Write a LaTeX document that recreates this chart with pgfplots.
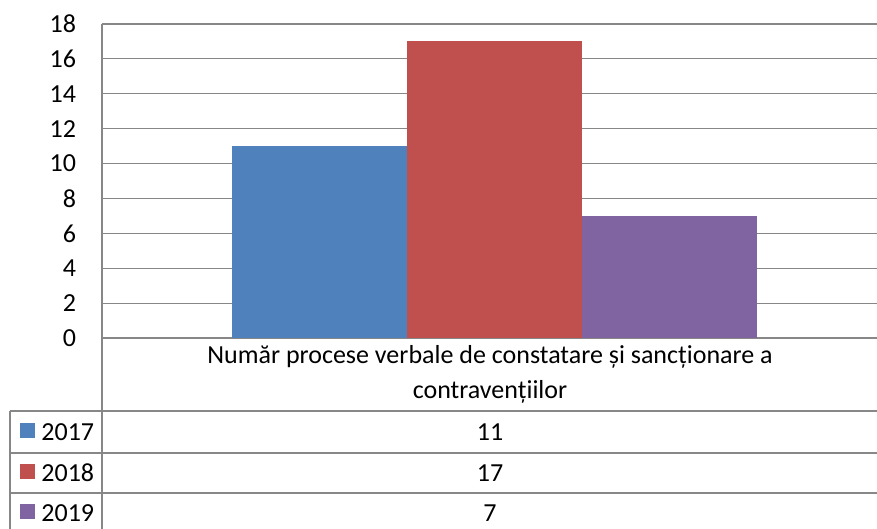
\documentclass[border=0pt]{standalone}
\usepackage{fontspec}
\setmainfont{Carlito}
\usepackage{pgfplots}
\pgfplotsset{compat=1.18}
\definecolor{b17}{HTML}{4F81BD}
\definecolor{r18}{HTML}{C0504D}
\definecolor{p19}{HTML}{8064A2}
\definecolor{gridc}{HTML}{878787}
\begin{document}
\fontsize{13}{15.6}\selectfont
\begin{tikzpicture}
\useasboundingbox (0pt,0pt) rectangle (438.5pt,264.5pt);
\begin{axis}[
  at={(51pt,95.5pt)}, anchor=south west,
  scale only axis, width=387.5pt, height=157pt,
  xmin=-0.5, xmax=0.5, ymin=0, ymax=18,
  ytick={0,2,...,18}, xtick=\empty,
  ymajorgrids, grid style={gridc, line width=0.6pt},
  axis x line*=bottom, axis y line*=left,
  axis line style={gridc, line width=0.6pt, -},
  major tick length=0pt,
  /pgf/number format/assume math mode=true,
  yticklabel style={font=\fontsize{13}{15.6}\selectfont, xshift=-8.5pt},
  clip=false,
]
\addplot[ybar, fill=b17, draw=none, bar width=87.5pt, bar shift=-87.5pt] coordinates {(0.006,11)};
\addplot[ybar, fill=r18, draw=none, bar width=87.5pt, bar shift=0pt] coordinates {(0.006,17)};
\addplot[ybar, fill=p19, draw=none, bar width=87.5pt, bar shift=87.5pt] coordinates {(0.006,7)};
\end{axis}
\begin{scope}[x=0.5pt,y=0.5pt]
\begin{scope}[gridc, line width=0.6pt]
\draw (102,191) -- (102,0);
\draw (10,118) -- (877,118);
\draw (10,76) -- (877,76);
\draw (10,36) -- (877,36);
\draw (10,118) -- (10,0);
\end{scope}
\node[align=center, font=\fontsize{13}{17.5}\selectfont] at (490,154.5) {Număr procese verbale de constatare și sancționare a\\contravențiilor};
\node at (490,97) {11};
\node at (490,56) {17};
\node at (490,16) {7};
\fill[b17] (20,91) rectangle (35,106);
\fill[r18] (20,50) rectangle (35,65);
\fill[p19] (20,10) rectangle (35,25);
\node[anchor=west, inner sep=0pt] at (41,97) {2017};
\node[anchor=west, inner sep=0pt] at (41,56) {2018};
\node[anchor=west, inner sep=0pt] at (41,16) {2019};
\end{scope}
\end{tikzpicture}
\end{document}
